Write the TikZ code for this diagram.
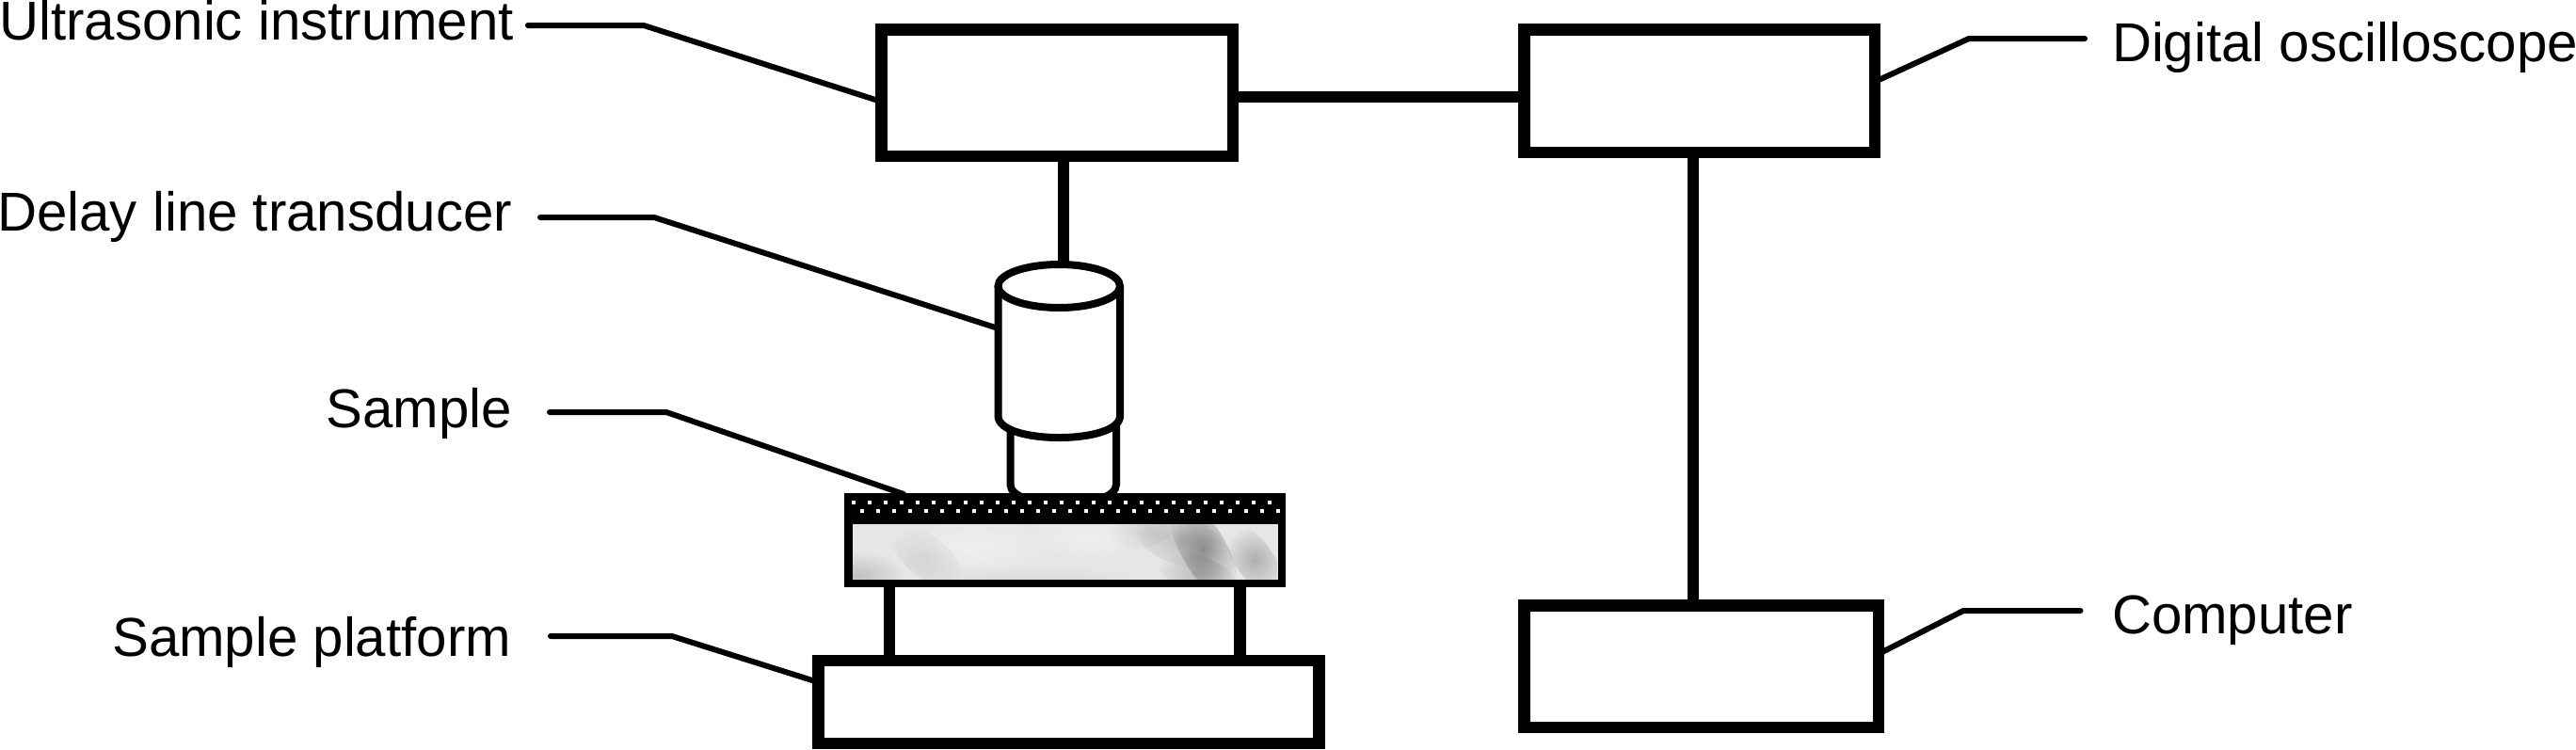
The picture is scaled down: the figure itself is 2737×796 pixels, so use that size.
\documentclass[tikz,border=0pt]{standalone}
\usepackage{fontspec}
\setmainfont{Liberation Sans}
\usetikzlibrary{shapes.geometric,fadings}
\tikzfading[name=blob, inner color=transparent!0, outer color=transparent!100]
\tikzset{
  box/.style={draw=black, fill=white, line width=12.5pt, inner sep=0pt, outer sep=0pt},
  link/.style={draw=black, line width=12.5pt},
  leader/.style={draw=black, line width=6pt, line cap=round, line join=round},
  wall/.style={draw=black, line width=8pt, fill=white},
  lab/.style={inner sep=0pt, outer sep=0pt, font=\fontsize{58.2pt}{60pt}\selectfont},
  spot/.style={path fading=blob, fill=black}
}
\definecolor{stone}{HTML}{E6E6E6}
\begin{document}
\begin{tikzpicture}[x=1pt,y=-1pt]
\fill[white] (0,0) rectangle (2737,796);
\useasboundingbox (0,0) rectangle (2737,796);

% boxes
\node[box, minimum width=373.5pt, minimum height=134.5pt] (instr) at (1123,98.5) {};
\node[box, minimum width=372.5pt, minimum height=130.5pt] (scope) at (1805.5,96.5) {};
\node[box, minimum width=376.5pt, minimum height=129.5pt] (comp) at (1807.5,708) {};
\node[box, minimum width=532pt, minimum height=88pt] (plat) at (1135.5,746) {};

% labels
\node[lab, anchor=base east] (lInstr) at (546,42) {Ultrasonic instrument};
\node[lab, anchor=base east] (lDelay) at (544,245) {Delay line transducer};
\node[lab, anchor=base east] (lSample) at (544,454) {Sample};
\node[lab, anchor=base east] (lPlat) at (543,697) {Sample platform};
\node[lab, anchor=base west] (lScope) at (2244,65) {Digital oscilloscope};
\node[lab, anchor=base west] (lComp) at (2244,673) {Computer};

% transducer: lower collar, body, top ellipse
\draw[wall] (1073.5,450) -- (1073.5,515) .. controls (1073.5,542) and (1186,542) .. (1186,515) -- (1186,450);
\draw[wall] (1060.5,304) -- (1060.5,442) .. controls (1060.5,472.7) and (1190,472.7) .. (1190,442) -- (1190,304);
\node[ellipse, draw=black, line width=8pt, fill=white, inner sep=0pt, outer sep=0pt,
      minimum width=129.5pt, minimum height=46pt] (top) at (1125.25,304) {};
\coordinate (bodyL) at (1060.5,349);

% sample: stone slab with dotted film on top
\node[draw=black, fill=stone, line width=8.5pt, inner sep=0pt, outer sep=0pt,
      minimum width=460.5pt, minimum height=91.5pt] (sample) at (1131.5,574) {};
\begin{scope}
  \clip (904.6,557) rectangle (1357,615.6);
  \fill[spot, opacity=.33, rotate around={-60:(1279,584)}] (1279,584) ellipse (62 and 24);
  \fill[spot, opacity=.24, rotate around={-55:(1333,595)}] (1333,595) ellipse (44 and 20);
  \fill[spot, opacity=.16, rotate around={-20:(1254,574)}] (1254,574) ellipse (50 and 26);
  \fill[spot, opacity=.10, rotate around={20:(1215,563)}] (1215,563) ellipse (38 and 20);
  \fill[spot, opacity=.18, rotate around={-20:(1272,610)}] (1272,610) ellipse (44 and 20);
  \fill[spot, opacity=.10, rotate around={-40:(985,592)}] (985,592) ellipse (50 and 22);
  \fill[spot, opacity=.16] (912,612) ellipse (50 and 26);
  \fill[spot, opacity=.05] (1100,618) ellipse (120 and 18);
  \fill[white, path fading=blob, opacity=.40] (1034,580) ellipse (90 and 32);
  \fill[white, path fading=blob, opacity=.35] (1160,570) ellipse (80 and 26);
\end{scope}
\node[fill=black, inner sep=0pt, outer sep=0pt, minimum width=469pt, minimum height=33pt] (film) at (1131.5,540.5) {};
\foreach \k in {0,...,26} {
  \fill[white] ({904.7+17*\k},532) rectangle ++(4,4);
  \fill[white] ({913.5+17*\k},541) rectangle ++(4,4);
}

% thick connectors
\draw[link] ([yshift=-4.5pt]instr.east) -- ([yshift=-6.5pt]scope.west);
\draw[link] ([xshift=6.75pt]instr.south) -- ([xshift=4.5pt]top.north);
\draw[link] ([xshift=-6.5pt]scope.south) -- ([xshift=-8.5pt]comp.north);
\draw[link, line width=11.5pt] ([xshift=-186.75pt]sample.south) -- ([xshift=-190.75pt]plat.north);
\draw[link] ([xshift=185.8pt]sample.south) -- ([xshift=181.8pt]plat.north);

% leader lines
\coordinate (kInstr) at (684,27);
\coordinate (kDelay) at (695,231);
\coordinate (kSample) at (708,438);
\coordinate (kPlat) at (714,676);
\coordinate (kScope) at (2092,41);
\coordinate (kComp) at (2086,649);
\coordinate (sInstr) at (561,27);
\coordinate (sDelay) at (574,231);
\coordinate (sSample) at (584,438);
\coordinate (sPlat) at (585,676);
\coordinate (sScope) at (2215,41);
\coordinate (sComp) at (2210.5,649);
\coordinate (sampleTop) at (960,525);
\draw[leader] (sInstr) -- (kInstr) -- ([yshift=-9.5pt]instr.west);
\draw[leader] (sDelay) -- (kDelay) -- (bodyL);
\draw[leader] (sSample) -- (kSample) -- (sampleTop);
\draw[leader] (sPlat) -- (kPlat) -- ([yshift=21pt]plat.west);
\draw[leader] (sScope) -- (kScope) -- ([yshift=9.5pt]scope.east);
\draw[leader] (sComp) -- (kComp) -- ([yshift=13pt]comp.east);
\end{tikzpicture}
\end{document}
